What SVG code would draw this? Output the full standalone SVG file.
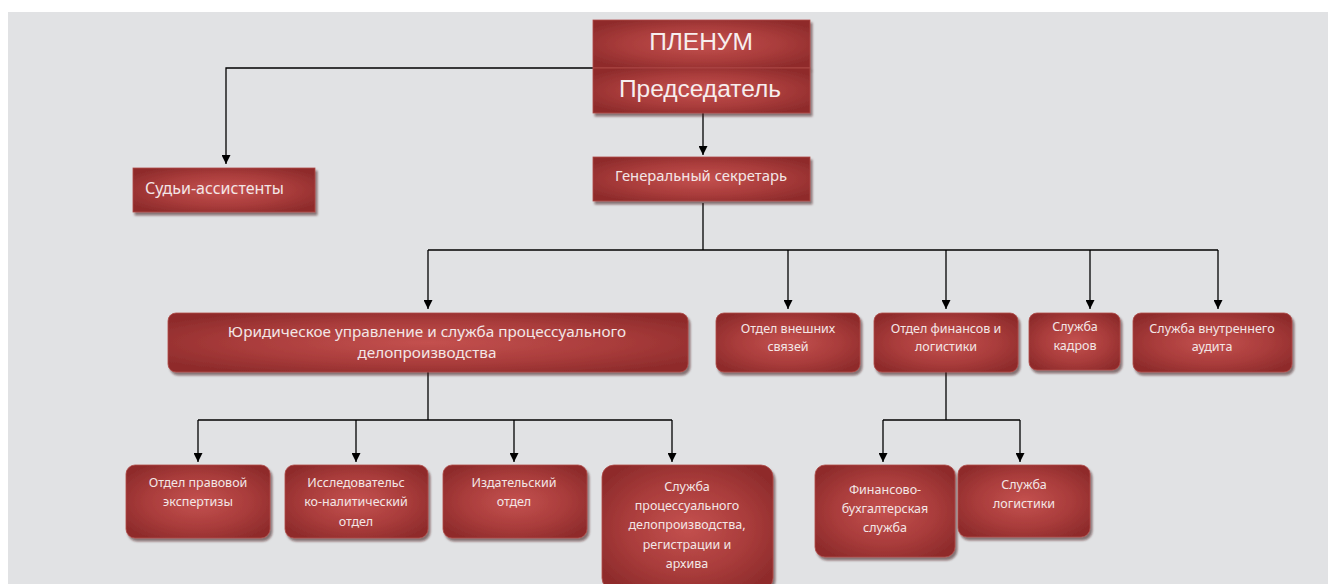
<svg xmlns="http://www.w3.org/2000/svg" width="1328" height="584" viewBox="0 0 1328 584">
<defs>
<radialGradient id="g" cx="0.5" cy="0.5" r="0.6">
<stop offset="0" stop-color="#c4514f"/>
<stop offset="0.6" stop-color="#a93c3b"/>
<stop offset="1" stop-color="#8f2c2c"/>
</radialGradient>
<filter id="sh" x="-10%" y="-10%" width="125%" height="130%">
<feDropShadow dx="2" dy="3" stdDeviation="1.2" flood-color="#3a1010" flood-opacity="0.55"/>
</filter>
<marker id="ar" viewBox="0 0 10 10" refX="10" refY="5" markerWidth="9" markerHeight="9" markerUnits="userSpaceOnUse" orient="auto">
<path d="M0,0 L10,5 L0,10 Z" fill="#000"/>
</marker>
<style>
.box{fill:url(#g);filter:url(#sh);stroke:#b04a48;stroke-width:0.8}
.t{font-family:"Noto Sans","Open Sans","Liberation Sans",sans-serif;fill:#f3e6e6;text-anchor:middle}
.big{font-family:"Liberation Sans",Arial,sans-serif;fill:#f7eeee;text-anchor:middle;font-size:24.5px}
.s{font-size:12.5px}
.c{fill:none;stroke:#000;stroke-width:1.3}
</style>
</defs>
<rect x="0" y="0" width="1328" height="584" fill="#ffffff"/>
<rect x="8" y="12" width="1320" height="572" fill="#e1e2e4"/>

<g id="connectors">
<path class="c" d="M593,68 H226 V164" marker-end="url(#ar)"/>
<path class="c" d="M703,113 V155" marker-end="url(#ar)"/>
<path class="c" d="M703,203 V250"/>
<path class="c" d="M428,250 H1218"/>
<path class="c" d="M428,250 V309" marker-end="url(#ar)"/>
<path class="c" d="M788,250 V309" marker-end="url(#ar)"/>
<path class="c" d="M946,250 V309" marker-end="url(#ar)"/>
<path class="c" d="M1090,250 V309" marker-end="url(#ar)"/>
<path class="c" d="M1218,250 V309" marker-end="url(#ar)"/>
<path class="c" d="M428,372 V420"/>
<path class="c" d="M198,420 H672"/>
<path class="c" d="M198,420 V462" marker-end="url(#ar)"/>
<path class="c" d="M356,420 V462" marker-end="url(#ar)"/>
<path class="c" d="M514,420 V462" marker-end="url(#ar)"/>
<path class="c" d="M672,420 V462" marker-end="url(#ar)"/>
<path class="c" d="M946,372 V420"/>
<path class="c" d="M883,420 H1020"/>
<path class="c" d="M883,420 V462" marker-end="url(#ar)"/>
<path class="c" d="M1020,420 V462" marker-end="url(#ar)"/>
</g>

<g id="plenum">
<rect class="box" x="593" y="20" width="217" height="48"/>
<text class="big" x="701" y="50">ПЛЕНУМ</text>
</g>
<g id="chairman">
<rect class="box" x="593" y="68" width="217" height="45"/>
<text class="big" x="700" y="97">Председатель</text>
</g>
<g id="judges-assistants">
<rect class="box" x="133" y="168" width="182" height="44"/>
<text class="t" x="145" y="194" style="text-anchor:start;font-size:16px">Судьи-ассистенты</text>
</g>
<g id="general-secretary">
<rect class="box" x="593" y="157" width="217" height="44"/>
<text class="t" x="701" y="181" style="font-size:14.8px">Генеральный секретарь</text>
</g>
<g id="legal">
<rect class="box" x="168" y="313" width="520" height="59" rx="8"/>
<text class="t" x="427" y="337" style="font-size:15.3px">Юридическое управление и служба процессуального</text>
<text class="t" x="427" y="358" style="font-size:15.3px">делопроизводства</text>
</g>
<g id="external">
<rect class="box" x="716" y="313" width="144" height="59" rx="8"/>
<text class="t s" x="788" y="333">Отдел внешних</text>
<text class="t s" x="788" y="351">связей</text>
</g>
<g id="finance">
<rect class="box" x="874" y="313" width="144" height="59" rx="8"/>
<text class="t s" x="946" y="333">Отдел финансов и</text>
<text class="t s" x="946" y="351">логистики</text>
</g>
<g id="hr">
<rect class="box" x="1029" y="313" width="91" height="57" rx="8"/>
<text class="t s" x="1075" y="331">Служба</text>
<text class="t s" x="1075" y="350">кадров</text>
</g>
<g id="audit">
<rect class="box" x="1133" y="313" width="159" height="59" rx="8"/>
<text class="t s" x="1212" y="333">Служба внутреннего</text>
<text class="t s" x="1212" y="351">аудита</text>
</g>
<g id="legal-expertise">
<rect class="box" x="126" y="465" width="144" height="73" rx="9"/>
<text class="t s" x="198" y="487">Отдел правовой</text>
<text class="t s" x="198" y="506">экспертизы</text>
</g>
<g id="research">
<rect class="box" x="285" y="465" width="143" height="73" rx="9"/>
<text class="t s" x="356" y="487">Исследовательс</text>
<text class="t s" x="356" y="506">ко-налитический</text>
<text class="t s" x="356" y="526">отдел</text>
</g>
<g id="publishing">
<rect class="box" x="443" y="465" width="144" height="73" rx="9"/>
<text class="t s" x="514" y="487">Издательский</text>
<text class="t s" x="514" y="506">отдел</text>
</g>
<g id="registry">
<rect class="box" x="602" y="465" width="171" height="125" rx="12"/>
<text class="t s" x="687" y="491">Служба</text>
<text class="t s" x="687" y="510">процессуального</text>
<text class="t s" x="687" y="529">делопроизводства,</text>
<text class="t s" x="687" y="549">регистрации и</text>
<text class="t s" x="687" y="568">архива</text>
</g>
<g id="accounting">
<rect class="box" x="815" y="465" width="140" height="92" rx="10"/>
<text class="t s" x="885" y="494">Финансово-</text>
<text class="t s" x="885" y="513">бухгалтерская</text>
<text class="t s" x="885" y="532">служба</text>
</g>
<g id="logistics">
<rect class="box" x="958" y="465" width="132" height="72" rx="9"/>
<text class="t s" x="1024" y="489">Служба</text>
<text class="t s" x="1024" y="508">логистики</text>
</g>
</svg>
